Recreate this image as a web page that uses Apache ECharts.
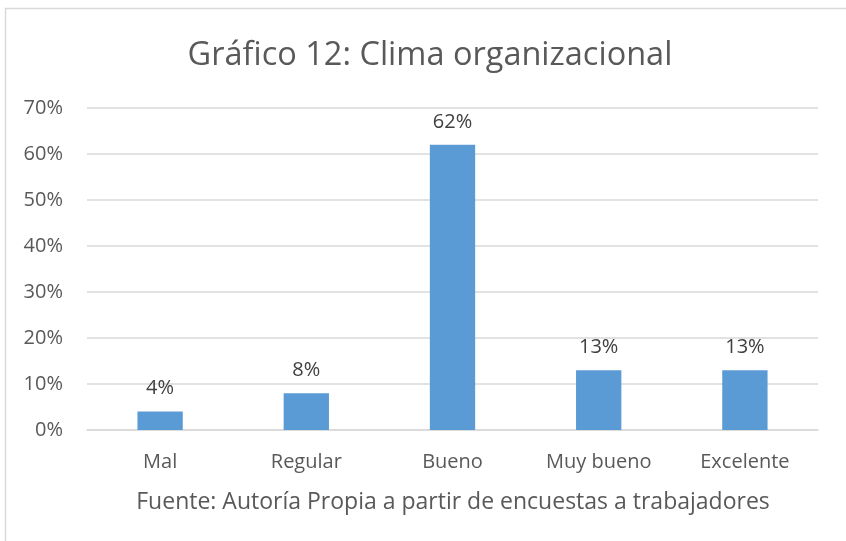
<!DOCTYPE html>
<html>
<head>
<meta charset="utf-8">
<script src="https://cdn.jsdelivr.net/npm/echarts@6/dist/echarts.min.js"></script>
<style>
html, body { margin: 0; padding: 0; background: #fff; }
#chart { width: 846px; height: 541px; }
</style>
</head>
<body>
<div id="chart"></div>
<script>
var categories = ['Mal', 'Regular', 'Bueno', 'Muy bueno', 'Excelente'];
var values = [4, 8, 62, 13, 13];
var titleText = 'Gráfico 12: Clima organizacional';
var sourceText = 'Fuente: Autoría Propia a partir de encuestas a trabajadores';

var font = '"Open Sans", "Noto Sans", sans-serif';
var option = {
    color: ['#5B9BD5'],
    animation: false,
    title: {
        text: titleText,
        left: 425,
        top: 34,
        textAlign: 'center',
        textStyle: {
            fontFamily: font,
            fontSize: 32.5,
            fontWeight: 'normal',
            color: '#595959'
        }
    },
    graphic: [
        {
            type: 'rect',
            shape: {x: 5.5, y: 8.5, width: 850, height: 560},
            style: {fill: 'none', stroke: '#D9D9D9', lineWidth: 1.5}
        },
        {
            type: 'text',
            x: 453,
            y: 502,
            style: {
                text: sourceText,
                fontFamily: font,
                fontSize: 23,
                fill: '#595959',
                align: 'center',
                verticalAlign: 'middle'
            }
        }
    ],
    grid: {
        left: 87,
        right: 28,
        top: 108,
        bottom: 111
    },
    xAxis: {
        type: 'category',
        data: categories,
        axisLine: {show: true, lineStyle: {color: '#D9D9D9', width: 1.5}},
        axisTick: {show: false},
        axisLabel: {
            color: '#595959',
            fontFamily: font,
            fontSize: 20,
            margin: 22
        }
    },
    yAxis: {
        type: 'value',
        min: 0,
        max: 70,
        interval: 10,
        axisLine: {show: false},
        axisTick: {show: false},
        splitLine: {lineStyle: {color: '#D9D9D9', width: 1.5}},
        axisLabel: {
            color: '#595959',
            fontFamily: font,
            fontSize: 20,
            margin: 24,
            formatter: '{value}%'
        }
    },
    series: [
        {
            type: 'bar',
            barWidth: '31%',
            data: values,
            label: {
                show: true,
                position: 'top',
                distance: 13,
                color: '#404040',
                fontFamily: font,
                fontSize: 20,
                formatter: '{c}%'
            }
        }
    ]
};
var chart = echarts.init(document.getElementById('chart'));
chart.setOption(option);
</script>
</body>
</html>
